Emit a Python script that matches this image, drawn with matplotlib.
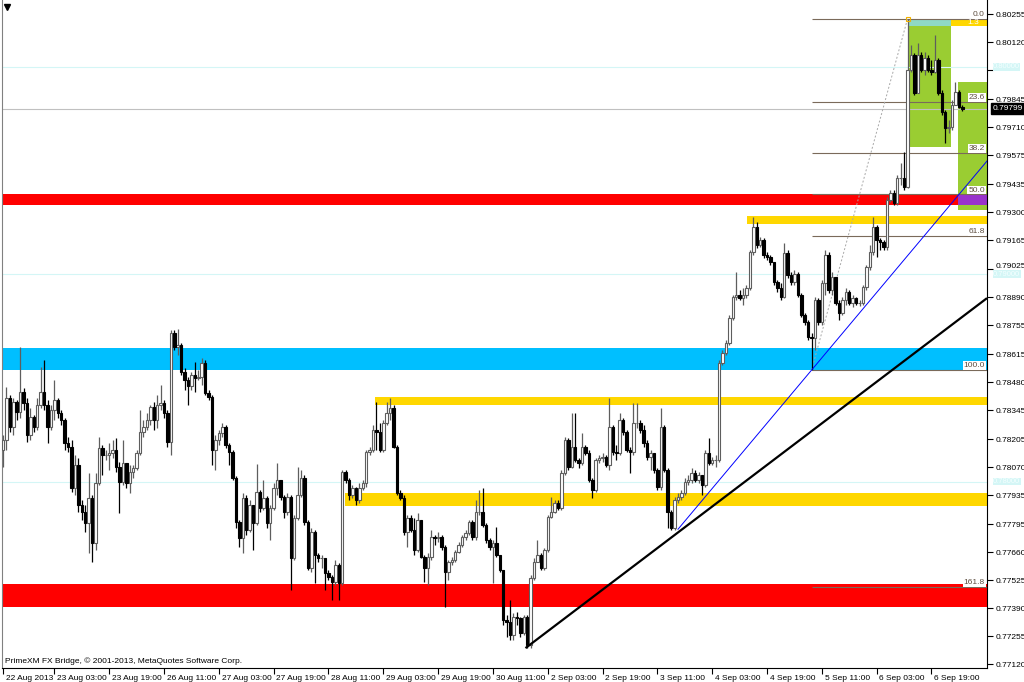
import numpy as np
import matplotlib
matplotlib.use('Agg')
from matplotlib import pyplot as plt
from matplotlib.transforms import blended_transform_factory, ScaledTranslation

plt.rcParams['font.family'] = ['Liberation Sans', 'DejaVu Sans']

# EURCHF-like H1 bars, 22 Aug - 6 Sep 2013
first_open = 0.78153
closes = [
    0.78201, 0.78403, 0.78263, 0.78384, 0.78335, 0.78432, 0.78380, 0.78225, 0.78311, 0.78263,
    0.78370, 0.78432, 0.78370, 0.78263, 0.78345, 0.78394, 0.78331, 0.78297, 0.78187, 0.78167,
    0.77969, 0.78080, 0.77888, 0.77853, 0.77801, 0.77921, 0.77705, 0.77994, 0.78162, 0.78129,
    0.78129, 0.78139, 0.78153, 0.78070, 0.77998, 0.78090, 0.77994, 0.78046, 0.78065, 0.78139,
    0.78239, 0.78263, 0.78297, 0.78360, 0.78297, 0.78370, 0.78380, 0.78331, 0.78191, 0.78717,
    0.78649, 0.78659, 0.78528, 0.78490, 0.78461, 0.78514, 0.78499, 0.78504, 0.78573, 0.78428,
    0.78408, 0.78153, 0.78201, 0.78235, 0.78263, 0.78177, 0.78143, 0.78017, 0.77805, 0.77728,
    0.77921, 0.77767, 0.77888, 0.77801, 0.77950, 0.77873, 0.77921, 0.77801, 0.77873, 0.77969,
    0.78008, 0.77926, 0.77853, 0.77926, 0.77631, 0.77824, 0.77936, 0.78017, 0.77805, 0.77583,
    0.77757, 0.77646, 0.77631, 0.77631, 0.77560, 0.77540, 0.77516, 0.77598, 0.77512, 0.78046,
    0.78008, 0.77936, 0.77969, 0.77912, 0.77969, 0.77994, 0.78143, 0.78153, 0.78249, 0.78239,
    0.78153, 0.78283, 0.78331, 0.78355, 0.78167, 0.77946, 0.77921, 0.77757, 0.77824, 0.77767,
    0.77670, 0.77815, 0.77636, 0.77583, 0.77636, 0.77733, 0.77728, 0.77733, 0.77685, 0.77564,
    0.77612, 0.77622, 0.77660, 0.77695, 0.77733, 0.77753, 0.77805, 0.77733, 0.77853, 0.77853,
    0.77791, 0.77719, 0.77685, 0.77705, 0.77646, 0.77574, 0.77333, 0.77323, 0.77261, 0.77347,
    0.77342, 0.77271, 0.77347, 0.77212, 0.77535, 0.77612, 0.77646, 0.77583, 0.77670, 0.77829,
    0.77853, 0.77898, 0.77873, 0.78042, 0.78201, 0.78070, 0.78167, 0.78104, 0.78090, 0.78167,
    0.78139, 0.78008, 0.77960, 0.78104, 0.78114, 0.78119, 0.78080, 0.78263, 0.78143, 0.78139,
    0.78297, 0.78239, 0.78153, 0.78143, 0.78283, 0.78283, 0.78249, 0.78187, 0.78119, 0.78139,
    0.78056, 0.77974, 0.78263, 0.78056, 0.77853, 0.77776, 0.77912, 0.77926, 0.77946, 0.77998,
    0.78008, 0.78042, 0.78008, 0.78032, 0.77984, 0.78139, 0.78090, 0.78104, 0.78104, 0.78573,
    0.78621, 0.78669, 0.78789, 0.78890, 0.78900, 0.78885, 0.78900, 0.78934, 0.79107, 0.79228,
    0.79141, 0.79165, 0.79093, 0.79083, 0.79059, 0.78963, 0.78934, 0.78890, 0.79103, 0.78997,
    0.78963, 0.79002, 0.78900, 0.78804, 0.78770, 0.78697, 0.78692, 0.78876, 0.78770, 0.78959,
    0.79093, 0.78924, 0.78987, 0.78862, 0.78814, 0.78876, 0.78914, 0.78862, 0.78885, 0.78862,
    0.78862, 0.78939, 0.79035, 0.79107, 0.79228, 0.79165, 0.79155, 0.79131, 0.79358, 0.79392,
    0.79344, 0.79465, 0.79465, 0.79421, 0.79985, 0.80058, 0.79875, 0.80058, 0.79985, 0.80043,
    0.79985, 0.79975, 0.80034, 0.79875, 0.79782, 0.79705, 0.79710, 0.79817, 0.79879, 0.79807,
    0.79799,
]
highs = [
    0.78225, 0.78456, 0.78418, 0.78403, 0.78394, 0.78649, 0.78451, 0.78403, 0.78355, 0.78321,
    0.78403, 0.78553, 0.78587, 0.78394, 0.78370, 0.78490, 0.78403, 0.78345, 0.78306, 0.78215,
    0.78201, 0.78129, 0.78114, 0.77912, 0.77888, 0.78042, 0.77936, 0.78042, 0.78215, 0.78177,
    0.78153, 0.78187, 0.78201, 0.78210, 0.78094, 0.78201, 0.78090, 0.78080, 0.78080, 0.78153,
    0.78345, 0.78297, 0.78331, 0.78370, 0.78384, 0.78418, 0.78466, 0.78394, 0.78345, 0.78731,
    0.78731, 0.78737, 0.78669, 0.78548, 0.78504, 0.78528, 0.78577, 0.78538, 0.78596, 0.78587,
    0.78442, 0.78418, 0.78225, 0.78249, 0.78283, 0.78273, 0.78187, 0.78153, 0.78027, 0.77815,
    0.77946, 0.77936, 0.77912, 0.77863, 0.78085, 0.77960, 0.78008, 0.77931, 0.77888, 0.77994,
    0.78090, 0.78008, 0.77936, 0.77946, 0.77936, 0.77839, 0.78070, 0.78056, 0.78032, 0.77815,
    0.77776, 0.77767, 0.77656, 0.77646, 0.77608, 0.77574, 0.77550, 0.77622, 0.77608, 0.78056,
    0.78056, 0.78017, 0.77984, 0.77974, 0.77994, 0.78008, 0.78153, 0.78167, 0.78273, 0.78384,
    0.78283, 0.78297, 0.78384, 0.78403, 0.78370, 0.78177, 0.77960, 0.77936, 0.77839, 0.77839,
    0.77824, 0.77849, 0.77815, 0.77646, 0.77656, 0.77767, 0.77743, 0.77757, 0.77743, 0.77695,
    0.77622, 0.77636, 0.77670, 0.77709, 0.77743, 0.77767, 0.77815, 0.77815, 0.77912, 0.77960,
    0.77969, 0.77801, 0.77728, 0.77719, 0.77781, 0.77646, 0.77574, 0.77357, 0.77429, 0.77367,
    0.77371, 0.77347, 0.77357, 0.77357, 0.77550, 0.77631, 0.77719, 0.77656, 0.77680, 0.77839,
    0.77926, 0.77912, 0.77912, 0.78056, 0.78215, 0.78210, 0.78331, 0.78331, 0.78114, 0.78235,
    0.78177, 0.78153, 0.78017, 0.78114, 0.78129, 0.78139, 0.78129, 0.78403, 0.78273, 0.78177,
    0.78331, 0.78306, 0.78249, 0.78167, 0.78380, 0.78380, 0.78297, 0.78273, 0.78201, 0.78153,
    0.78129, 0.78065, 0.78355, 0.78273, 0.78065, 0.77863, 0.77926, 0.77946, 0.77960, 0.78017,
    0.78032, 0.78065, 0.78056, 0.78046, 0.78032, 0.78153, 0.78210, 0.78119, 0.78129, 0.78587,
    0.78635, 0.78683, 0.78804, 0.78900, 0.79011, 0.78924, 0.78934, 0.78949, 0.79117, 0.79276,
    0.79252, 0.79180, 0.79175, 0.79107, 0.79093, 0.79059, 0.78973, 0.78959, 0.79151, 0.79117,
    0.79011, 0.79021, 0.79011, 0.78910, 0.78814, 0.78780, 0.78717, 0.78890, 0.78885, 0.78973,
    0.79117, 0.79107, 0.79011, 0.78987, 0.78876, 0.78890, 0.78934, 0.78924, 0.78900, 0.78890,
    0.78876, 0.78949, 0.79045, 0.79141, 0.79276, 0.79238, 0.79175, 0.79165, 0.79373, 0.79407,
    0.79407, 0.79479, 0.79537, 0.79590, 0.80232, 0.80106, 0.80068, 0.80116, 0.80072, 0.80072,
    0.80058, 0.80034, 0.80154, 0.80043, 0.79889, 0.79792, 0.79744, 0.79841, 0.79927, 0.79889,
    0.79817,
]
lows = [
    0.78070, 0.78153, 0.78239, 0.78225, 0.78297, 0.78306, 0.78345, 0.78191, 0.78201, 0.78239,
    0.78249, 0.78355, 0.78345, 0.78187, 0.78249, 0.78297, 0.78306, 0.78273, 0.78153, 0.78143,
    0.77950, 0.77936, 0.77853, 0.77815, 0.77757, 0.77656, 0.77612, 0.77670, 0.77984, 0.78032,
    0.78104, 0.78056, 0.78114, 0.78046, 0.77849, 0.77984, 0.77969, 0.77946, 0.78017, 0.78056,
    0.78129, 0.78215, 0.78249, 0.78273, 0.78249, 0.78258, 0.78345, 0.78306, 0.78167, 0.78129,
    0.78635, 0.78611, 0.78514, 0.78442, 0.78370, 0.78442, 0.78432, 0.78490, 0.78466, 0.78418,
    0.78394, 0.78080, 0.78056, 0.78177, 0.78215, 0.78162, 0.78080, 0.78008, 0.77776, 0.77685,
    0.77656, 0.77743, 0.77757, 0.77670, 0.77791, 0.77853, 0.77863, 0.77776, 0.77719, 0.77863,
    0.77936, 0.77912, 0.77824, 0.77839, 0.77477, 0.77622, 0.77815, 0.77926, 0.77791, 0.77574,
    0.77564, 0.77512, 0.77612, 0.77583, 0.77477, 0.77526, 0.77429, 0.77502, 0.77429, 0.77502,
    0.77994, 0.77912, 0.77921, 0.77888, 0.77898, 0.77960, 0.77974, 0.78129, 0.78143, 0.78153,
    0.78143, 0.78143, 0.78273, 0.78297, 0.78162, 0.77936, 0.77912, 0.77743, 0.77685, 0.77757,
    0.77646, 0.77660, 0.77631, 0.77516, 0.77502, 0.77622, 0.77695, 0.77709, 0.77670, 0.77395,
    0.77526, 0.77598, 0.77612, 0.77656, 0.77685, 0.77719, 0.77743, 0.77719, 0.77719, 0.77839,
    0.77781, 0.77705, 0.77670, 0.77512, 0.77636, 0.77564, 0.77309, 0.77251, 0.77236, 0.77236,
    0.77309, 0.77251, 0.77261, 0.77197, 0.77197, 0.77526, 0.77612, 0.77574, 0.77574, 0.77660,
    0.77824, 0.77849, 0.77863, 0.77863, 0.78032, 0.78056, 0.78065, 0.78094, 0.78065, 0.78080,
    0.78129, 0.77998, 0.77921, 0.77950, 0.78090, 0.78094, 0.78070, 0.78056, 0.78129, 0.78104,
    0.78129, 0.78225, 0.78143, 0.78042, 0.78129, 0.78258, 0.78235, 0.78167, 0.78104, 0.78056,
    0.78042, 0.77960, 0.77960, 0.78046, 0.77776, 0.77767, 0.77767, 0.77898, 0.77912, 0.77936,
    0.77984, 0.77994, 0.77998, 0.77994, 0.77936, 0.77974, 0.78080, 0.78080, 0.78070, 0.78094,
    0.78563, 0.78611, 0.78659, 0.78780, 0.78876, 0.78876, 0.78852, 0.78885, 0.78924, 0.79093,
    0.79126, 0.79131, 0.79078, 0.79069, 0.79045, 0.78949, 0.78914, 0.78876, 0.78885, 0.78982,
    0.78949, 0.78949, 0.78890, 0.78794, 0.78756, 0.78683, 0.78538, 0.78635, 0.78756, 0.78756,
    0.78900, 0.78910, 0.78900, 0.78852, 0.78780, 0.78804, 0.78852, 0.78852, 0.78842, 0.78852,
    0.78847, 0.78852, 0.78924, 0.79021, 0.79093, 0.79083, 0.79117, 0.79117, 0.79117, 0.79348,
    0.79334, 0.79334, 0.79431, 0.79407, 0.79416, 0.79975, 0.79865, 0.79875, 0.79975, 0.79961,
    0.79975, 0.79961, 0.79971, 0.79865, 0.79768, 0.79633, 0.79681, 0.79696, 0.79817, 0.79802,
    0.79790,
]

# axis ticks (0.79985 sits under the 0.80000 label on the scale)
price_ticks = [0.80255, 0.80120, 0.79985, 0.79845, 0.79710, 0.79575, 0.79435, 0.79300,
               0.79165, 0.79025, 0.78890, 0.78755, 0.78615, 0.78480, 0.78345, 0.78205,
               0.78070, 0.77935, 0.77795, 0.77660, 0.77525, 0.77390, 0.77255, 0.77120]
hidden_ticks = [0.79985]
time_ticks = [0, 15, 31, 47, 63, 79, 95, 111, 127, 143, 159, 175, 191, 207, 223, 239, 255, 271]
time_labels = ['22 Aug 2013', '23 Aug 03:00', '23 Aug 19:00', '26 Aug 11:00', '27 Aug 03:00',
               '27 Aug 19:00', '28 Aug 11:00', '29 Aug 03:00', '29 Aug 19:00', '30 Aug 11:00',
               '2 Sep 03:00', '2 Sep 19:00', '3 Sep 11:00', '4 Sep 03:00', '4 Sep 19:00',
               '5 Sep 11:00', '6 Sep 03:00', '6 Sep 19:00']

# zones: (start bar, low, high); None start = whole chart
red_zones = [(None, 0.79334, 0.79388), (None, 0.77395, 0.77507)]
blue_zones = [(None, 0.78538, 0.78644)]
gold_zones = [(108.6, 0.78370, 0.78408), (99.8, 0.77883, 0.77946),
              (217.2, 0.79243, 0.79281), (264.2, 0.80198, 0.80232)]
green_boxes = [(264.2, 276.7, 0.79614, 0.80232), (278.7, None, 0.79310, 0.79927)]
round_levels = [0.80000, 0.79000, 0.78000]
bid = 0.79799

# fibonacci retracement
fib_low_bar, fib_low = 236, 0.78538
fib_high_bar, fib_high = 264, 0.80232
fib_levels = [0.0, 23.6, 38.2, 50.0, 61.8, 100.0, 161.8]

# trend lines (bar, price) anchors
blue_tl = [(197, 0.7777), (236, 0.78538)]
black_tl = [(152.5, 0.77197), (287.2, 0.78885)]

o = np.array([first_open] + closes[:-1])
c = np.array(closes)
h = np.array(highs)
l = np.array(lows)
x = np.arange(len(c))

fig = plt.figure(figsize=(10.24, 6.82), dpi=100)
ax = fig.add_axes([2/1024, 14/682, 985/1024, 668/682])
xmin, xmax = -0.29, 287.2
ax.set_xlim(xmin, xmax)
ax.set_ylim(0.77101, 0.80323)

# zones in the background
for s, lo, hi in red_zones:
    ax.fill_between([xmin if s is None else s, xmax], lo, hi, color='#FF0000', lw=0, zorder=1)
for s, lo, hi in blue_zones:
    ax.fill_between([xmin if s is None else s, xmax], lo, hi, color='#00BFFF', lw=0, zorder=1)
for s, lo, hi in gold_zones:
    ax.fill_between([s, xmax], lo, hi, color='#FFD700', lw=0, zorder=1)
for x0, x1, lo, hi in green_boxes:
    ax.fill_between([x0, xmax if x1 is None else x1], lo, hi, color='#9ACD32', lw=0, zorder=1.1)
# overlaps of boxes with zones
g1, g2 = green_boxes
ax.fill_between([g1[0], g1[1]], gold_zones[3][1], gold_zones[3][2], color='#8FD9C4', lw=0, zorder=1.2)
ax.fill_between([g2[0], xmax], red_zones[0][1], red_zones[0][2], color='#9933CC', lw=0, zorder=1.2)

for lv in round_levels:
    ax.axhline(lv, color='#D4F6F6', lw=0.8, zorder=1.3)
ax.axhline(bid, color='#C0C0C0', lw=0.8, zorder=1.3)

# fibo
rng = fib_high - fib_low
fib_prices = [fib_high - r / 100 * rng for r in fib_levels]
ax.hlines(fib_prices, fib_low_bar, xmax, color='#7A6A5A', lw=0.8, zorder=2)
for r, p in zip(fib_levels, fib_prices):
    ax.text(xmax - 0.6, p + 0.00004, '%.1f' % r, ha='right', va='bottom', fontsize=6,
            color='#5E4E40', zorder=2.2,
            bbox=dict(boxstyle='square,pad=0.1', fc='white', ec='none'))
ax.plot([fib_low_bar, fib_high_bar], [fib_low, fib_high], color='#A8A8A8', lw=0.7,
        ls=(0, (2, 2)), zorder=2)
ax.plot([fib_high_bar], [fib_high], marker='s', ms=3, mfc='none', mec='#F0B000', mew=0.8, zorder=5)
ax.text(281.5, 0.80214, '1.3', fontsize=6, color='white', va='center', zorder=2.3)

# candles
bull = c >= o
bear = ~bull
ax.vlines(x[bull], l[bull], h[bull], color='#5E5E5E', lw=0.9, zorder=3)
ax.vlines(x[bear], l[bear], h[bear], color='black', lw=0.9, zorder=3)
ax.bar(x[bull], c[bull] - o[bull], bottom=o[bull], width=0.72, facecolor='white',
       edgecolor='#5E5E5E', lw=0.8, zorder=3.5)
ax.bar(x[bear], c[bear] - o[bear], bottom=o[bear], width=0.72, facecolor='black',
       edgecolor='black', lw=0.8, zorder=3.5)

# trend lines
(bx0, by0), (bx1, by1) = blue_tl
slope = (by1 - by0) / (bx1 - bx0)
ax.plot([bx0, xmax], [by0, by1 + slope * (xmax - bx1)], color='#0000FF', lw=0.7, zorder=4)
ax.plot([p[0] for p in black_tl], [p[1] for p in black_tl], color='black', lw=1.6,
        zorder=4, solid_capstyle='butt')

# axes look
ax.spines['top'].set_visible(False)
ax.spines['left'].set_color('#808080')
for side in ['right', 'bottom', 'left']:
    ax.spines[side].set_linewidth(0.8)
ax.yaxis.tick_right()
ax.set_yticks(price_ticks)
ax.set_yticklabels(['' if p in hidden_ticks else '%.5f' % p for p in price_ticks])
ax.tick_params(axis='y', direction='out', length=4, width=0.8, pad=2, labelsize=6)
ax.set_xticks(time_ticks)
ax.set_xticklabels(time_labels)
ax.tick_params(axis='x', direction='out', length=4, width=0.8, pad=1, labelsize=6)
shift = ScaledTranslation(2/72, 0, fig.dpi_scale_trans)
for lab in ax.get_xticklabels():
    lab.set_horizontalalignment('left')
    lab.set_transform(lab.get_transform() + shift)
# the 0.79025 label sits just above the 0.79000 box on the scale
lift = ScaledTranslation(0, 2.5/72, fig.dpi_scale_trans)
for p, lab in zip(price_ticks, ax.get_yticklabels()):
    if p == 0.79025:
        lab.set_transform(lab.get_transform() + lift)

# price labels on the scale
tr = blended_transform_factory(ax.transAxes, ax.transData)
for lv in round_levels:
    ax.text(1.0 + 6/985, lv, '%.5f' % lv, transform=tr, ha='left', va='center', fontsize=5.5,
            color='#F4FFFF', zorder=10, clip_on=False,
            bbox=dict(boxstyle='square,pad=0.05', fc='#D4F6F6', ec='none'))
ax.text(1.0 + 6/985, bid, '%.5f' % bid, transform=tr, ha='left', va='center', fontsize=6,
        color='white', zorder=10, clip_on=False,
        bbox=dict(boxstyle='square,pad=0.25', fc='black', ec='black'))

ax.plot([0.005], [0.99], marker='v', ms=4, color='black', transform=ax.transAxes, clip_on=False)
fig.text(5/1024, 1 - 661/682, 'PrimeXM FX Bridge, \u00a9 2001-2013, MetaQuotes Software Corp.',
         fontsize=6, va='center', ha='left')

fig.savefig('out.png', dpi=100)
